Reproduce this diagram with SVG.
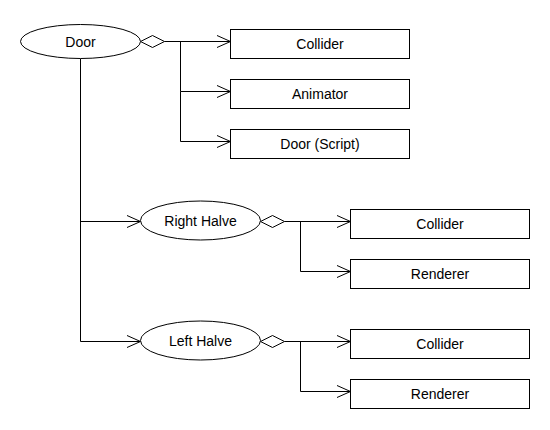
<svg xmlns="http://www.w3.org/2000/svg" width="550" height="430" viewBox="0 0 550 430">
<defs>
<marker id="arr" markerUnits="userSpaceOnUse" markerWidth="16" markerHeight="14" refX="14" refY="6.5" orient="auto">
<path d="M0.5,0.5 L14,6.5 L0.5,12.5" fill="none" stroke="#000" stroke-width="1"/>
</marker>
</defs>
<style>
.n{fill:#fff;stroke:#000;stroke-width:1}
.t{font-family:"Liberation Sans",Arial,sans-serif;font-size:14px;fill:#000;text-anchor:middle;dominant-baseline:central}
.c{fill:none;stroke:#000;stroke-width:1}
.a{fill:none;stroke:#000;stroke-width:1;marker-end:url(#arr)}
.d{fill:#fff;stroke:#000;stroke-width:1}
</style>
<rect width="550" height="430" fill="#fff"/>
<g id="connectors">
<polygon class="d" points="140.5,41.5 152.5,35.5 164.5,41.5 152.5,47.5"/>
<path class="a" d="M164.5,41.5 H230.5"/>
<path class="a" d="M180.5,41.5 V91.5 H230.5"/>
<path class="a" d="M180.5,91.5 V141.5 H230.5"/>
<path class="c" d="M80.5,58.5 V341.5"/>
<path class="a" d="M80.5,221.5 H140.5"/>
<path class="a" d="M80.5,341.5 H140.5"/>
<polygon class="d" points="260.5,221.5 272.5,215.5 284.5,221.5 272.5,227.5"/>
<path class="a" d="M284.5,221.5 H350.5"/>
<path class="a" d="M300.5,221.5 V271.5 H350.5"/>
<polygon class="d" points="260.5,341.5 272.5,335.5 284.5,341.5 272.5,347.5"/>
<path class="a" d="M284.5,341.5 H350.5"/>
<path class="a" d="M300.5,341.5 V391.5 H350.5"/>
</g>
<g id="door"><ellipse class="n" cx="80.5" cy="41.5" rx="60" ry="17"/><text class="t" x="80.5" y="42">Door</text></g>
<g id="collider1"><rect class="n" x="230.5" y="29.5" width="179" height="29"/><text class="t" x="320" y="44">Collider</text></g>
<g id="animator"><rect class="n" x="230.5" y="79.5" width="179" height="29"/><text class="t" x="320" y="94">Animator</text></g>
<g id="doorscript"><rect class="n" x="230.5" y="129.5" width="179" height="29"/><text class="t" x="320" y="144">Door (Script)</text></g>
<g id="righthalve"><ellipse class="n" cx="200.5" cy="220.5" rx="60" ry="19.5"/><text class="t" x="200.5" y="221">Right Halve</text></g>
<g id="collider2"><rect class="n" x="350.5" y="209.5" width="179" height="29"/><text class="t" x="440" y="224">Collider</text></g>
<g id="renderer1"><rect class="n" x="350.5" y="259.5" width="179" height="29"/><text class="t" x="440" y="274">Renderer</text></g>
<g id="lefthalve"><ellipse class="n" cx="200.5" cy="340.5" rx="60" ry="19.5"/><text class="t" x="200.5" y="341">Left Halve</text></g>
<g id="collider3"><rect class="n" x="350.5" y="329.5" width="179" height="29"/><text class="t" x="440" y="344">Collider</text></g>
<g id="renderer2"><rect class="n" x="350.5" y="379.5" width="179" height="29"/><text class="t" x="440" y="394">Renderer</text></g>
</svg>
